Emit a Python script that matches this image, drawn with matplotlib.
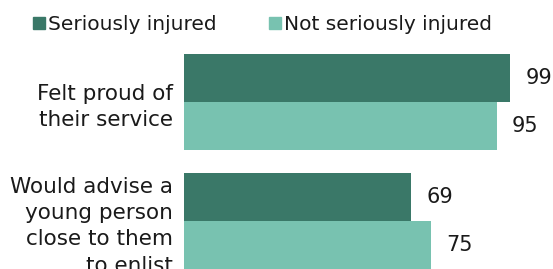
import numpy as np
import matplotlib.pyplot as plt
from matplotlib.lines import Line2D

# data
categories = ["Felt proud of\ntheir service", "Would advise a\nyoung person\nclose to them\nto enlist"]
seriously = [99, 69]
not_seriously = [95, 75]
series_names = ["Seriously injured", "Not seriously injured"]
colors = ["#3a7868", "#78c2b0"]

plt.rcParams["font.family"] = ["DejaVu Sans"]

W, H = 553, 269
fig = plt.figure(figsize=(W / 100, H / 100), dpi=100)

h = 0.403
pos = np.arange(len(categories))
top, bottom = 54, 269
ax = fig.add_axes([184 / W, 1 - bottom / H, (W - 184) / W, (bottom - top) / H])

b1 = ax.barh(pos - h / 2, seriously, height=h, color=colors[0])
b2 = ax.barh(pos + h / 2, not_seriously, height=h, color=colors[1])

for bars, vals in ((b1, seriously), (b2, not_seriously)):
    for bar, v in zip(bars, vals):
        ax.annotate(str(v), (bar.get_width(), bar.get_y() + bar.get_height() / 2),
                    xytext=(11, 0), textcoords="offset points",
                    va="center", ha="left", fontsize=15, color="#1a1a1a")

ax.set_xlim(0, (W - 184) / 3.293)
ax.set_ylim(1 + h, -h)
ax.set_yticks(pos)
ax.set_yticklabels(categories, fontsize=15.5, linespacing=1.4, color="#1a1a1a")
ax.tick_params(axis="y", length=0, pad=8)
ax.set_xticks([])
for s in ax.spines.values():
    s.set_visible(False)

handles = [Line2D([], [], marker="s", linestyle="none", markersize=9, color=c) for c in colors]
fig.legend(handles, series_names, loc="upper left", bbox_to_anchor=(23 / W, 1 - 5 / H),
           ncol=2, frameon=False, fontsize=14.5, handlelength=0.6, handletextpad=0.15,
           columnspacing=2.6, borderpad=0, labelcolor="#1a1a1a")

fig.savefig("out.png", dpi=100)
